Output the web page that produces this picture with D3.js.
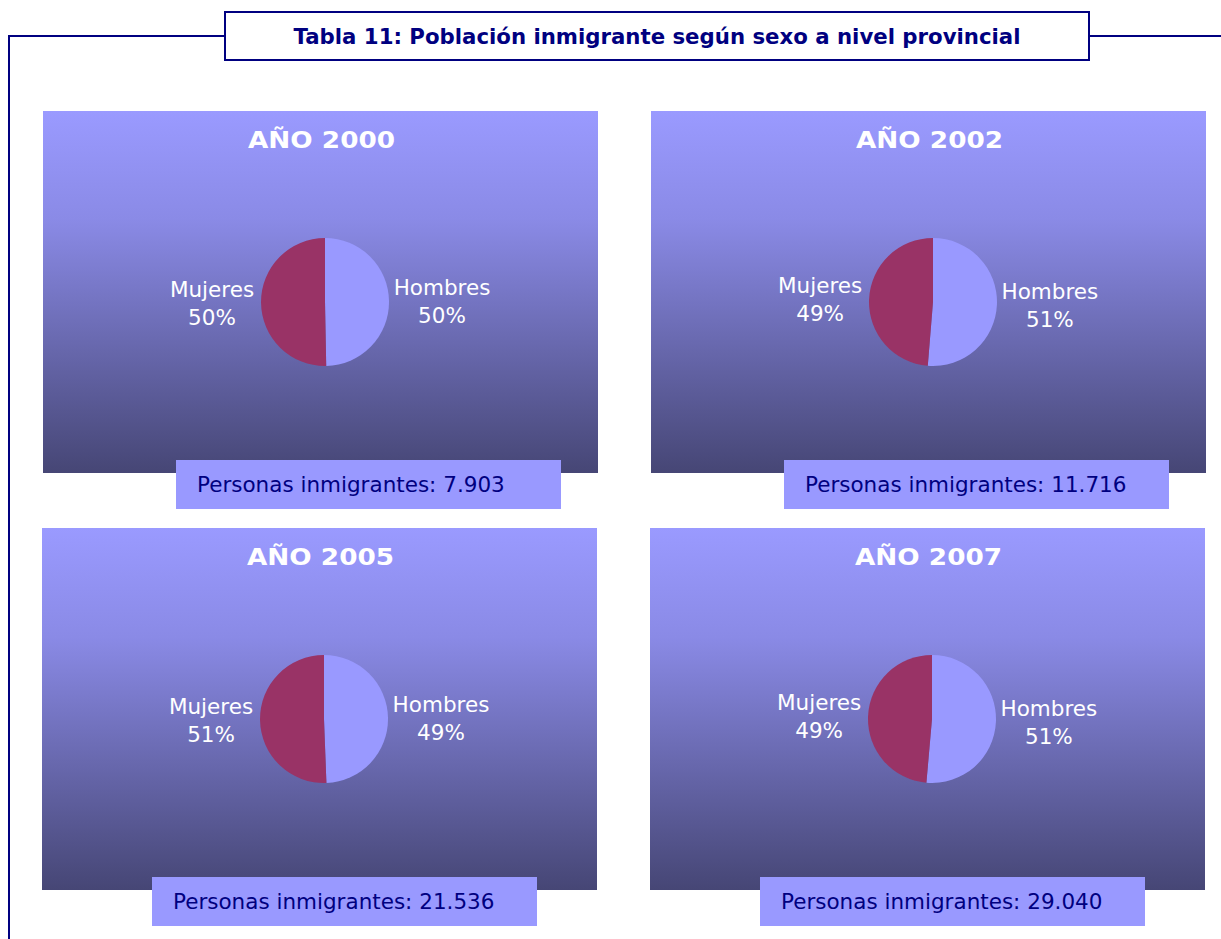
<!DOCTYPE html>
<html>
<head>
<meta charset="utf-8">
<script src="https://cdn.jsdelivr.net/npm/d3@7"></script>
<style>
  body { margin: 0; background: #fff; }
  text { font-family: "DejaVu Sans", Verdana, sans-serif; }
</style>
</head>
<body>
<svg id="chart" width="1221" height="939"></svg>
<script>
// data
var years = ["2000", "2002", "2005", "2007"];
var totals = ["7.903", "11.716", "21.536", "29.040"];
var hombres = [49.7, 51.3, 49.4, 51.4];   // % share (slice size)
var mujeres = [50.3, 48.7, 50.6, 48.6];
var sexos = ["Hombres", "Mujeres"];
var titulo = "Tabla 11: Población inmigrante según sexo a nivel provincial";

var svg = d3.select("#chart");
var navy = "#000080";
var color = d3.scaleOrdinal().domain(sexos).range(["#9999FF", "#993366"]);

// background gradient for the panels
var grad = svg.append("defs").append("linearGradient")
  .attr("id", "bg")
  .attr("x1", "0%").attr("y1", "0%")
  .attr("x2", "0%").attr("y2", "100%");
grad.append("stop").attr("offset", "0%").attr("stop-color", "#9a9aff");
grad.append("stop").attr("offset", "30%").attr("stop-color", "#8a8ae6");
grad.append("stop").attr("offset", "100%").attr("stop-color", "#464675");

// frame lines
svg.append("path")
  .attr("d", "M9,939 V36 H225 M1090,36 H1221")
  .attr("fill", "none")
  .attr("stroke", navy)
  .attr("stroke-width", 2);

svg.append("rect")
  .attr("x", 225).attr("y", 12)
  .attr("width", 864).attr("height", 48)
  .attr("fill", "#fff")
  .attr("stroke", navy)
  .attr("stroke-width", 2);

svg.append("text")
  .attr("x", 657).attr("y", 44)
  .attr("text-anchor", "middle")
  .attr("fill", navy)
  .attr("font-weight", "bold")
  .attr("font-size", 21)
  .attr("textLength", 727)
  .attr("lengthAdjust", "spacingAndGlyphs")
  .text(titulo);

// panel layout
var panelW = 555, panelH = 362;
var panelX = d3.scaleOrdinal().domain(years).range([43, 651, 42, 650]);
var panelY = d3.scaleOrdinal().domain(years).range([111, 111, 528, 528]);
var boxOff = d3.scaleOrdinal().domain(years).range([133, 133, 110, 110]);

var pie = d3.pie().sort(null).value(function(d) { return d.v; });
var r = 64;
var arc = d3.arc().innerRadius(0).outerRadius(r);
var labelArc = d3.arc().innerRadius(115).outerRadius(115);

years.forEach(function(y, i) {
  var g = svg.append("g")
    .attr("transform", "translate(" + panelX(y) + "," + panelY(y) + ")");

  g.append("rect")
    .attr("width", panelW).attr("height", panelH)
    .attr("fill", "url(#bg)");

  g.append("text")
    .attr("x", panelW / 2 + 1).attr("y", 37)
    .attr("text-anchor", "middle")
    .attr("fill", "#fff")
    .attr("font-weight", "bold")
    .attr("font-size", 23)
    .attr("textLength", 147)
    .attr("lengthAdjust", "spacingAndGlyphs")
    .text("AÑO " + y);

  var data = [{k: "Hombres", v: hombres[i]}, {k: "Mujeres", v: mujeres[i]}];
  var pg = g.append("g").attr("transform", "translate(282,191)");

  pg.selectAll("path")
    .data(pie(data))
    .enter().append("path")
    .attr("d", arc)
    .attr("fill", function(d) { return color(d.data.k); });

  var lab = pg.selectAll("text.lab")
    .data(pie(data))
    .enter().append("text")
    .attr("class", "lab")
    .attr("transform", function(d) {
      var c = labelArc.centroid(d);
      return "translate(" + (c[0] + 2) + "," + (c[1] * 0.6) + ")";
    })
    .attr("text-anchor", "middle")
    .attr("fill", "#fff")
    .attr("font-size", 21.5);
  lab.append("tspan").attr("x", 0).attr("y", -6).text(function(d) { return d.data.k; });
  lab.append("tspan").attr("x", 0).attr("y", 22).text(function(d) { return Math.round(d.data.v) + "%"; });

  // count box
  var bx = boxOff(y);
  g.append("rect")
    .attr("x", bx).attr("y", panelH - 13)
    .attr("width", 385).attr("height", 49)
    .attr("fill", "#9999FF");
  g.append("text")
    .attr("x", bx + 21).attr("y", panelH + 19)
    .attr("fill", navy)
    .attr("font-size", 21.5)
    .text("Personas inmigrantes: " + totals[i]);
});
</script>
</body>
</html>
